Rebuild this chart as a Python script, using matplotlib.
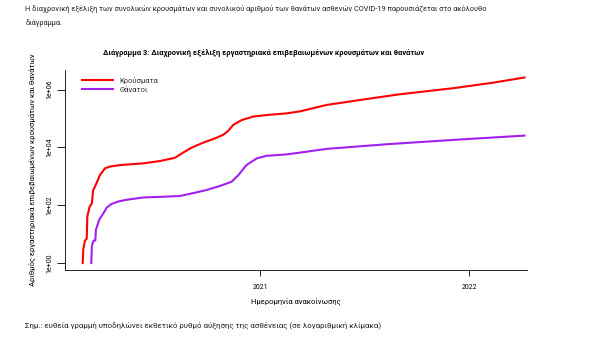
import numpy as np
import pandas as pd
import matplotlib
matplotlib.use("Agg")
import matplotlib.pyplot as plt
import matplotlib.dates as mdates

plt.rcParams['font.family'] = ['Roboto', 'DejaVu Sans']

# cumulative cases
case_dates = ["2020-02-26", "2020-02-27", "2020-03-01", "2020-03-04", "2020-03-05",
              "2020-03-09", "2020-03-13", "2020-03-15", "2020-03-21", "2020-03-27",
              "2020-04-05", "2020-04-14", "2020-05-01", "2020-06-11", "2020-07-10",
              "2020-08-05", "2020-08-17", "2020-09-03", "2020-09-24", "2020-10-11",
              "2020-10-28", "2020-11-06", "2020-11-15", "2020-11-30", "2020-12-20",
              "2021-01-12", "2021-02-16", "2021-03-11", "2021-04-27", "2021-06-24",
              "2021-09-02", "2021-12-04", "2022-02-12", "2022-04-08"]
cases = [1, 3, 6, 7, 40, 89, 117, 316, 575, 1100, 1900, 2190, 2450, 2820, 3390,
         4370, 6170, 9800, 14800, 19500, 26900, 37200, 60300, 89100, 117000,
         132000, 151000, 176000, 295000, 437000, 692000, 1120000, 1740000, 2630000]

# cumulative deaths
death_dates = ["2020-03-12", "2020-03-13", "2020-03-16", "2020-03-19", "2020-03-20",
               "2020-03-26", "2020-04-02", "2020-04-08", "2020-04-16", "2020-04-28",
               "2020-05-13", "2020-06-11", "2020-07-10", "2020-08-14", "2020-09-06",
               "2020-09-30", "2020-10-23", "2020-11-12", "2020-11-24", "2020-12-08",
               "2020-12-26", "2021-01-12", "2021-02-16", "2021-03-11", "2021-04-27",
               "2021-08-10", "2021-12-04", "2022-04-08"]
deaths = [1, 4, 6, 6, 14, 32, 52, 83, 110, 135, 155, 186, 195, 209, 263, 339, 468,
          646, 1100, 2450, 4170, 5130, 5750, 6610, 8910, 12900, 18200, 25700]

series_labels = ["Κρούσματα", "Θάνατοι"]
y_ticks = [1, 100, 10000, 1000000]
y_ticklabels = ["1e+00", "1e+02", "1e+04", "1e+06"]

fig = plt.figure(figsize=(6, 3.51), dpi=100)
ax = fig.add_axes([0.1083, 0.2308, 0.7697, 0.5698])

ax.plot(pd.to_datetime(case_dates), cases, color="#FF0000", lw=1.5, label=series_labels[0])
ax.plot(pd.to_datetime(death_dates), deaths, color="#A020F0", lw=1.5, label=series_labels[1])

ax.set_yscale("log")
ax.set_ylim(10 ** -0.24, 10 ** 6.68)
ax.set_xlim(pd.Timestamp("2020-01-26"), pd.Timestamp("2022-04-12"))
ax.set_yticks(y_ticks)
ax.set_yticklabels(y_ticklabels, rotation=90, va="center", fontsize=5)
ax.yaxis.set_minor_locator(matplotlib.ticker.NullLocator())
ax.xaxis.set_major_locator(mdates.YearLocator())
ax.xaxis.set_major_formatter(mdates.DateFormatter("%Y"))
ax.tick_params(axis="x", labelsize=5, length=4, width=0.6, pad=6)
ax.tick_params(axis="y", length=6, width=0.6, pad=2)
for s in ["top", "right"]:
    ax.spines[s].set_visible(False)
for s in ["left", "bottom"]:
    ax.spines[s].set_linewidth(0.6)

ax.set_xlabel("Ημερομηνία ανακοίνωσης", fontsize=5.5, labelpad=5)
ax.set_ylabel("Αριθμός εργαστηριακά επιβεβαιωμένων κρουσμάτων και θανάτων", fontsize=5.5, labelpad=8)

leg = ax.legend(loc="upper left", bbox_to_anchor=(0.022, 1.0), frameon=False, fontsize=5.5,
                handlelength=4.0, labelspacing=0.3, handletextpad=0.9)
for t in leg.get_texts():
    t.set_color("#333333")

fig.text(0.44, 0.848, "Διάγραμμα 3: Διαχρονική εξέλιξη εργαστηριακά επιβεβαιωμένων κρουσμάτων και θανάτων",
         ha="center", va="center", fontsize=5.4, fontweight="bold")
fig.text(0.042, 0.975, "Η διαχρονική εξέλιξη των συνολικών κρουσμάτων και συνολικού αριθμού των θανάτων ασθενών COVID-19 παρουσιάζεται στο ακόλουθο",
         ha="left", va="center", fontsize=5.35, color="#222222")
fig.text(0.042, 0.935, "διάγραμμα.", ha="left", va="center", fontsize=5.35, color="#222222")
fig.text(0.042, 0.074, "Σημ.: ευθεία γραμμή υποδηλώνει εκθετικό ρυθμό αύξησης της ασθένειας (σε λογαριθμική κλίμακα)",
         ha="left", va="center", fontsize=5.7, color="#222222")

fig.savefig("out.png", dpi=100)
